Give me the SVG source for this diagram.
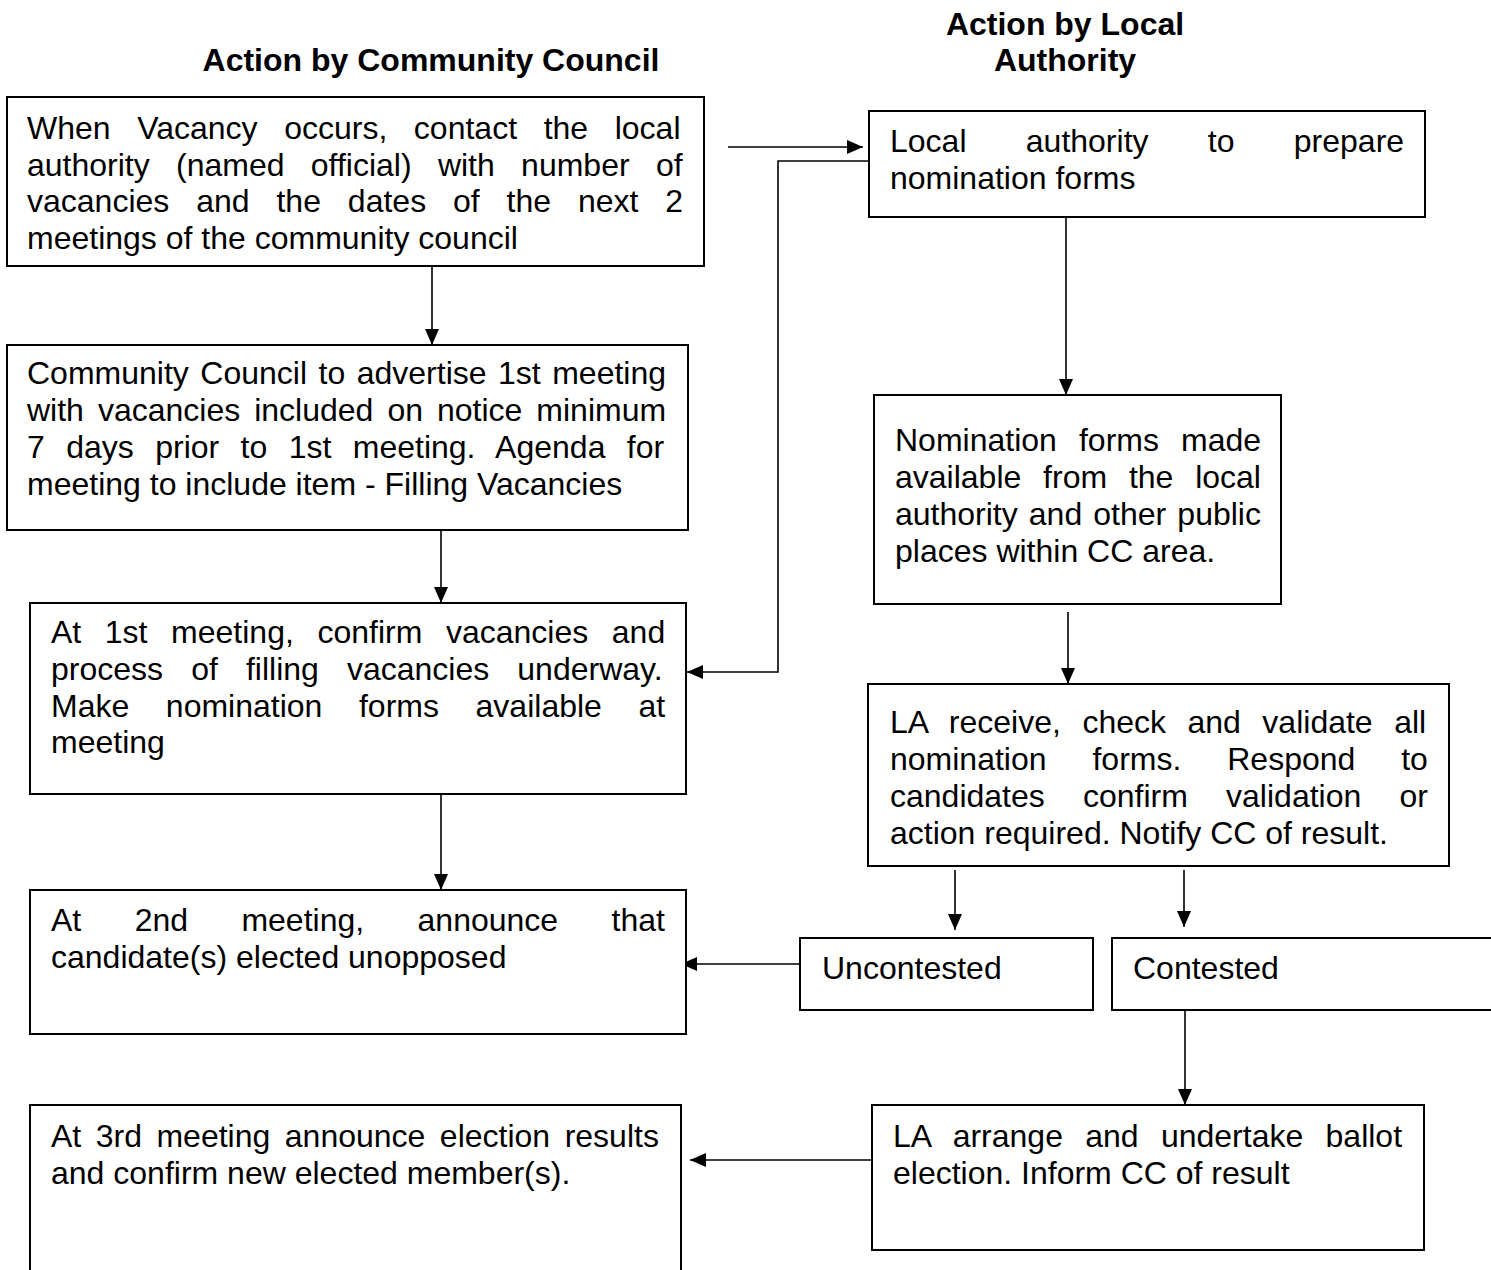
<svg xmlns="http://www.w3.org/2000/svg" width="1491" height="1270" viewBox="0 0 1491 1270">
<style>
.box{fill:#fff;stroke:#000;stroke-width:2}
.t{font-family:"Liberation Sans",Arial,sans-serif;font-size:32px;fill:#000}
.h{font-family:"Liberation Sans",Arial,sans-serif;font-size:32px;font-weight:bold;fill:#000;text-anchor:middle}
.c{fill:none;stroke:#000;stroke-width:1.6;marker-end:url(#ah)}
</style>
<defs>
<marker id="ah" markerUnits="userSpaceOnUse" markerWidth="16" markerHeight="14" viewBox="0 0 16 14" refX="16" refY="7" orient="auto">
<path d="M0,0 L16,7 L0,14 Z" fill="#000"/>
</marker>
</defs>
<rect width="1491" height="1270" fill="#fff"/>
<g id="headers">
<text class="h" x="431" y="71">Action by Community Council</text>
<text class="h" x="1065" y="35">Action by Local</text>
<text class="h" x="1065" y="71">Authority</text>
</g>
<g id="connectors">
<path class="c" d="M728,147 H863"/>
<path class="c" d="M869,161 H778 V672 H687"/>
<path class="c" d="M432,259 V345"/>
<path class="c" d="M441,530 V603"/>
<path class="c" d="M441,794 V890"/>
<path class="c" d="M1066,210 V395"/>
<path class="c" d="M1068,612 V684"/>
<path class="c" d="M955,870 V930"/>
<path class="c" d="M1184,870 V927"/>
<path class="c" d="M800,964 H681"/>
<path class="c" d="M1185,1010 V1105"/>
<path class="c" d="M872,1160 H690"/>
</g>
<g id="n1">
<rect class="box" x="7" y="97" width="697" height="169"/>
<text class="t" x="27" y="139" word-spacing="17.7">When Vacancy occurs, contact the local</text>
<text class="t" x="27" y="176" word-spacing="17.4">authority (named official) with number of</text>
<text class="t" x="27" y="212" word-spacing="18">vacancies and the dates of the next 2</text>
<text class="t" x="27" y="249">meetings of the community council</text>
</g>
<g id="n2">
<rect class="box" x="869" y="111" width="556" height="106"/>
<text class="t" x="890" y="152" word-spacing="50.4">Local authority to prepare</text>
<text class="t" x="890" y="189">nomination forms</text>
</g>
<g id="n3">
<rect class="box" x="7" y="345" width="681" height="185"/>
<text class="t" x="27" y="384" word-spacing="2.6">Community Council to advertise 1st meeting</text>
<text class="t" x="27" y="421" word-spacing="5.1">with vacancies included on notice minimum</text>
<text class="t" x="27" y="458" word-spacing="12.5">7 days prior to 1st meeting. Agenda for</text>
<text class="t" x="27" y="495">meeting to include item - Filling Vacancies</text>
</g>
<g id="n4">
<rect class="box" x="30" y="603" width="656" height="191"/>
<text class="t" x="51" y="643" word-spacing="14.7">At 1st meeting, confirm vacancies and</text>
<text class="t" x="51" y="680" word-spacing="19.2">process of filling vacancies underway.</text>
<text class="t" x="51" y="717" word-spacing="27.7">Make nomination forms available at</text>
<text class="t" x="51" y="753">meeting</text>
</g>
<g id="n5">
<rect class="box" x="874" y="395" width="407" height="209"/>
<text class="t" x="895" y="451" word-spacing="13.2">Nomination forms made</text>
<text class="t" x="895" y="488" word-spacing="12.9">available from the local</text>
<text class="t" x="895" y="525" word-spacing="2.2">authority and other public</text>
<text class="t" x="895" y="562">places within CC area.</text>
</g>
<g id="n6">
<rect class="box" x="868" y="684" width="581" height="182"/>
<text class="t" x="890" y="733" word-spacing="12.6">LA receive, check and validate all</text>
<text class="t" x="890" y="770" word-spacing="37">nomination forms. Respond to</text>
<text class="t" x="890" y="807" word-spacing="29.3">candidates confirm validation or</text>
<text class="t" x="890" y="844">action required. Notify CC of result.</text>
</g>
<g id="n7">
<rect class="box" x="30" y="890" width="656" height="144"/>
<text class="t" x="51" y="931" word-spacing="44.5">At 2nd meeting, announce that</text>
<text class="t" x="51" y="968">candidate(s) elected unopposed</text>
</g>
<g id="n8">
<rect class="box" x="800" y="938" width="293" height="72"/>
<text class="t" x="822" y="979">Uncontested</text>
</g>
<g id="n9">
<rect class="box" x="1112" y="938" width="384" height="72"/>
<text class="t" x="1133" y="979">Contested</text>
</g>
<g id="n10">
<rect class="box" x="30" y="1105" width="651" height="175"/>
<text class="t" x="51" y="1147" word-spacing="5.6">At 3rd meeting announce election results</text>
<text class="t" x="51" y="1184">and confirm new elected member(s).</text>
</g>
<g id="n11">
<rect class="box" x="872" y="1105" width="552" height="145"/>
<text class="t" x="893" y="1147" word-spacing="13.4">LA arrange and undertake ballot</text>
<text class="t" x="893" y="1184">election. Inform CC of result</text>
</g>
</svg>
